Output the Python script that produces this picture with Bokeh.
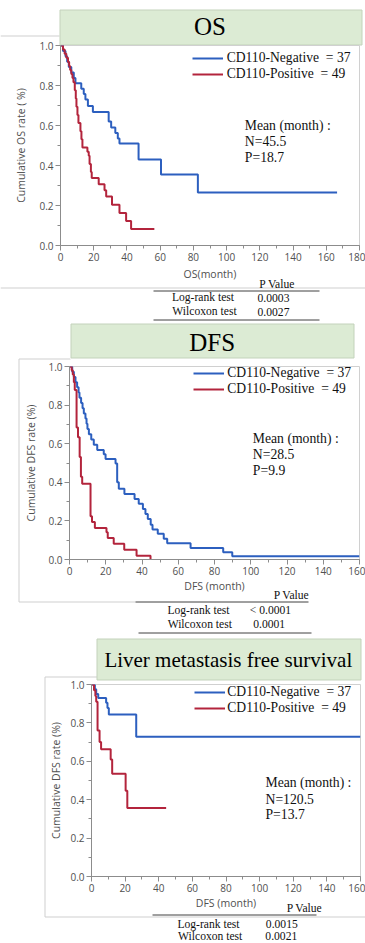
from bokeh.plotting import figure
from bokeh.models import (Label, Legend, LegendItem, Range1d,
                          SingleIntervalTicker, PrintfTickFormatter)
from bokeh.core.properties import value
from bokeh.embed import file_html
from bokeh.resources import INLINE

# ---------------- data ----------------
# OS
os_neg_t = [0, 1.5, 3.0, 4.0, 5.0, 6.5, 8.0, 9.0, 12.5, 14.0, 15.0, 16.5, 19.5,
            29.0, 30.5, 33.0, 34.5, 35.5, 47.0, 60.5, 82.7]
os_neg_s = [1.0, 0.973, 0.946, 0.919, 0.892, 0.865, 0.838, 0.811, 0.784, 0.757,
            0.730, 0.697, 0.668, 0.620, 0.590, 0.562, 0.535, 0.510, 0.430, 0.355, 0.265]
os_neg_end = 166.5
os_pos_t = [0, 1.5, 2.5, 3.5, 4.5, 5.2, 5.8, 6.5, 7.2, 7.8, 8.6, 9.2, 9.6, 10.2, 10.8,
            12.0, 12.6, 13.2, 16.2, 17.0, 17.5, 18.3, 18.8, 23.0, 26.5, 27.5, 31.0,
            35.5, 39.5, 42.5]
os_pos_s = [1.0, 0.980, 0.959, 0.939, 0.918, 0.898, 0.878, 0.857, 0.837, 0.816, 0.776,
            0.735, 0.694, 0.653, 0.612, 0.571, 0.531, 0.490, 0.469, 0.449, 0.408,
            0.367, 0.337, 0.306, 0.276, 0.245, 0.204, 0.163, 0.122, 0.082]
os_pos_end = 56.5

# DFS
dfs_neg_t = [0, 1.5, 2.4, 3.3, 4.2, 5.0, 5.5, 6.4, 7.2, 7.9, 8.8, 9.4, 9.9, 10.7, 12.0,
             13.4, 15.3, 18.9, 19.9, 25.4, 26.3, 27.2, 30.3, 35.9, 38.2, 40.5, 41.9,
             43.2, 44.8, 45.8, 48.7, 52.0, 53.9, 66.8, 84.8, 89.8]
dfs_neg_s = [1.0, 0.973, 0.946, 0.919, 0.892, 0.865, 0.838, 0.811, 0.784, 0.757, 0.730,
             0.703, 0.676, 0.649, 0.622, 0.595, 0.568, 0.545, 0.521, 0.497, 0.400,
             0.366, 0.340, 0.314, 0.289, 0.262, 0.236, 0.210, 0.180, 0.155, 0.133,
             0.107, 0.084, 0.060, 0.038, 0.017]
dfs_neg_end = 160
dfs_pos_t = [0, 1.2, 1.8, 2.4, 2.9, 3.9, 4.7, 5.6, 6.3, 7.0, 11.6, 12.4, 14.0, 20.4,
             21.1, 24.4, 30.2, 37.0, 44.7]
dfs_pos_s = [1.0, 0.980, 0.959, 0.918, 0.878, 0.684, 0.633, 0.531, 0.429, 0.393, 0.224,
             0.194, 0.163, 0.141, 0.112, 0.082, 0.051, 0.020, 0.0]
dfs_pos_end = 44.7

# Liver metastasis free survival
lm_neg_t = [0, 2.0, 2.8, 4.0, 8.7, 9.5, 10.3, 26.6]
lm_neg_s = [1.0, 0.975, 0.951, 0.930, 0.905, 0.878, 0.844, 0.728]
lm_neg_end = 160
lm_pos_t = [0, 1.5, 2.3, 2.8, 3.6, 4.8, 5.7, 11.4, 12.3, 20.3, 21.3]
lm_pos_s = [1.0, 0.970, 0.940, 0.910, 0.760, 0.700, 0.663, 0.610, 0.535, 0.446, 0.357]
lm_pos_end = 44.4

legend_labels = ["CD110-Negative\u00a0 = 37", "CD110-Positive\u00a0 = 49"]
titles = ["OS", "DFS", "Liver metastasis free survival"]
y_titles = ["Cumulative OS rate ( %)", "Cumulative DFS rate (%)", "Cumulative DFS rate (%)"]
x_titles = ["OS(month)", "DFS (month)", "DFS (month)"]
x_max = [180, 160, 160]
mean_lines = [["Mean (month) :", "N=45.5", "P=18.7"],
              ["Mean (month) :", "N=28.5", "P=9.9"],
              ["Mean (month) :", "N=120.5", "P=13.7"]]
test_names = ["Log-rank test", "Wilcoxon test"]
p_values = [["0.0003", "0.0027"], ["< 0.0001", "0.0001"], ["0.0015", "0.0021"]]

# ---------------- style ----------------
BLUE = "#2c5fbf"
RED = "#b3243c"
GREEN = "#dcebd4"
GREEN_EDGE = "#c3d2bb"
SERIF = "Liberation Serif"
SANS = "Open Sans"
AX = "#8c8c8c"
AXTXT = "#505050"
LIGHT = "#cfcfcf"
DARK = "#404040"
PAGE_W, PAGE_H = 365, 943

# ---------------- background page (title boxes, frames, tables) ----------------
d = figure(width=PAGE_W, height=PAGE_H, x_range=Range1d(0, PAGE_W), y_range=Range1d(PAGE_H, 0),
           output_backend="svg", toolbar_location=None, x_axis_type=None, y_axis_type=None,
           min_border=0, outline_line_color=None,
           background_fill_color="white", border_fill_color="white")
d.grid.visible = False

# light grey outer frames of the pasted panels
d.segment(x0=[0, 0, 18.5, 18.5, 18.5, 44.5, 44.5, 44.5],
          y0=[35.5, 287.5, 358.5, 358.5, 601.5, 676.5, 676.5, 916.5],
          x1=[59, 365, 70, 18.5, 135, 97, 44.5, 365],
          y1=[35.5, 287.5, 358.5, 601.5, 601.5, 676.5, 916.5, 916.5],
          line_color=LIGHT, line_width=1)
# green title boxes
d.quad(left=[59.5, 70.5, 96.5], right=[361.5, 353.5, 360.5],
       top=[9.5, 323.5, 638.5], bottom=[44.5, 357.5, 679.5],
       fill_color=GREEN, line_color=GREEN_EDGE, line_width=1)
d.text(x=[209.5], y=[25.5], text=[titles[0]], text_font=value(SERIF), text_font_size="25px",
       text_align="center", text_baseline="middle", text_color="#000000")
d.text(x=[211.7], y=[341.5], text=[titles[1]], text_font=value(SERIF), text_font_size="25px",
       text_align="center", text_baseline="middle", text_color="#000000")
d.text(x=[227.8], y=[659.5], text=[titles[2]], text_font=value(SERIF), text_font_size="21px",
       text_align="center", text_baseline="middle", text_color="#000000")

# p-value tables
d.segment(x0=[153, 153, 135, 138, 152], y0=[290.5, 319.5, 601.5, 632.5, 914.5],
          x1=[319, 319, 308, 311, 316], y1=[290.5, 319.5, 601.5, 632.5, 914.5],
          line_color=DARK, line_width=1)
tab_x = [276.7, 202.5, 204.0, 273.0, 273.0,
         291.0, 198.0, 199.3, 270.0, 268.7,
         304.0, 208.0, 209.7, 281.3, 280.8]
tab_y = [283.8, 297.0, 311.3, 297.0, 311.3,
         594.8, 609.8, 623.8, 609.8, 623.8,
         908.2, 923.6, 935.6, 923.6, 935.6]
tab_txt = []
for pv in p_values:
    tab_txt += ["P Value", test_names[0], test_names[1], pv[0], pv[1]]
d.text(x=tab_x, y=tab_y, text=tab_txt, text_font=value(SERIF), text_font_size="11.6px",
       text_align="center", text_baseline="middle", text_color="#111111")


# ---------------- Kaplan-Meier panels ----------------
def km_panel(top, fl, ft, fw, fh, fbm, xmax, ytitle, xtitle, ystand, xstand,
             t1, s1, e1, t2, s2, e2, leg_left, leg_rows, leg_standoff, mean_x, mean_y, mean_txt):
    H = ft + fh + fbm
    p = figure(width=PAGE_W, height=H, output_backend="svg", toolbar_location=None,
               x_range=Range1d(0, xmax), y_range=Range1d(0, 1),
               min_border_left=fl, min_border_right=PAGE_W - fl - fw,
               min_border_top=ft, min_border_bottom=fbm,
               background_fill_alpha=0, border_fill_alpha=0,
               styles={"position": "absolute", "left": "0px", "top": f"{top}px",
                       "z-index": "2"})
    p.grid.visible = False
    p.outline_line_color = "#d0d0d0"
    p.xaxis.ticker = SingleIntervalTicker(interval=20, num_minor_ticks=2)
    p.yaxis.ticker = SingleIntervalTicker(interval=0.2, num_minor_ticks=2)
    p.yaxis.formatter = PrintfTickFormatter(format="%.1f")
    for ax in (p.xaxis[0], p.yaxis[0]):
        ax.axis_line_color = AX
        ax.major_tick_line_color = AX
        ax.minor_tick_line_color = AX
        ax.major_tick_out = 5
        ax.major_tick_in = 0
        ax.minor_tick_out = 3
        ax.minor_tick_in = 0
        ax.major_label_text_font = SANS
        ax.major_label_text_font_size = "10px"
        ax.major_label_text_color = AXTXT
        ax.major_label_standoff = 2
        ax.axis_label_text_font = SANS
        ax.axis_label_text_font_size = "10.5px"
        ax.axis_label_text_font_style = "normal"
        ax.axis_label_text_color = AXTXT
    p.xaxis.axis_label = xtitle
    p.yaxis.axis_label = ytitle
    p.xaxis.axis_label_standoff = xstand
    p.yaxis.axis_label_standoff = ystand

    r1 = p.step(list(t1) + [e1], list(s1) + [s1[-1]], mode="after",
                line_color=BLUE, line_width=2)
    r2 = p.step(list(t2) + [e2], list(s2) + [s2[-1]], mode="after",
                line_color=RED, line_width=2)

    frame_bottom = top + ft + fh          # page y of the frame bottom
    leg_bottom = leg_rows[1] + 8
    leg = Legend(items=[LegendItem(label=legend_labels[0], renderers=[r1]),
                        LegendItem(label=legend_labels[1], renderers=[r2])],
                 location=(leg_left - fl, frame_bottom - leg_bottom),
                 orientation="vertical", glyph_width=31, glyph_height=16,
                 label_height=16, label_standoff=leg_standoff, spacing=0, padding=0,
                 margin=0, border_line_alpha=0, background_fill_alpha=0,
                 label_text_font=SERIF, label_text_font_size="13.6px",
                 label_text_color="#111111")
    p.add_layout(leg)
    for y, s in zip(mean_y, mean_txt):
        p.add_layout(Label(x=mean_x - fl, y=frame_bottom - y, x_units="screen", y_units="screen",
                           text=s, text_font=SERIF, text_font_size="13.7px",
                           text_baseline="middle", text_color="#111111"))
    return p


k1 = km_panel(40, 60, 5, 299, 200, 40, x_max[0], y_titles[0], x_titles[0], 8, 3,
              os_neg_t, os_neg_s, os_neg_end, os_pos_t, os_pos_s, os_pos_end,
              191.7, (58.3, 74.3), 4, 244.3, (125.3, 141.0, 157.0), mean_lines[0])
k2 = km_panel(360, 69, 6, 290, 193, 40, x_max[1], y_titles[1], x_titles[1], 7, 1,
              dfs_neg_t, dfs_neg_s, dfs_neg_end, dfs_pos_t, dfs_pos_s, dfs_pos_end,
              193.3, (372.7, 388.7), 3, 252.3, (437.5, 453.5, 470.0), mean_lines[1])
k3 = km_panel(678, 91, 6, 269, 192, 40, x_max[2], y_titles[2], x_titles[2], 4, 1,
              lm_neg_t, lm_neg_s, lm_neg_end, lm_pos_t, lm_pos_s, lm_pos_end,
              194.3, (691, 707.5), 2, 265, (782.0, 798.5, 814.0), mean_lines[2])

open("out.html", "w").write(file_html([d, k1, k2, k3], INLINE))
